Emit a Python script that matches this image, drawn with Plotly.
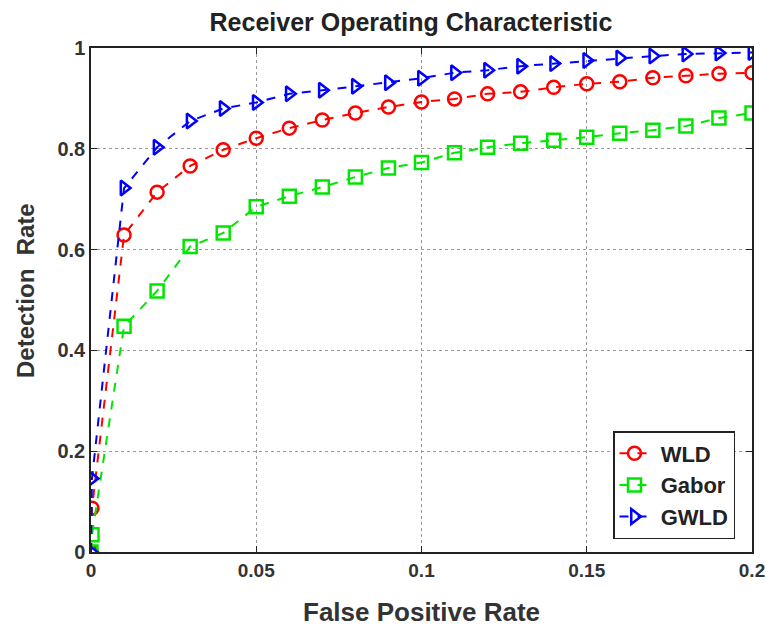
import plotly.graph_objects as go

fpr = [0.0, 0.0003, 0.01, 0.02, 0.03, 0.04, 0.05, 0.06, 0.07, 0.08, 0.09, 0.10,
       0.11, 0.12, 0.13, 0.14, 0.15, 0.16, 0.17, 0.18, 0.19, 0.20]

wld = [0.0, 0.087, 0.629, 0.714, 0.766, 0.798, 0.821, 0.841, 0.857, 0.871, 0.883, 0.893,
       0.899, 0.909, 0.913, 0.922, 0.929, 0.933, 0.941, 0.945, 0.949, 0.951]
gabor = [0.0, 0.034, 0.448, 0.518, 0.606, 0.633, 0.685, 0.706, 0.724, 0.744, 0.762, 0.773,
         0.792, 0.803, 0.811, 0.817, 0.823, 0.831, 0.837, 0.845, 0.861, 0.871]
gwld = [0.0, 0.146, 0.722, 0.803, 0.855, 0.880, 0.892, 0.909, 0.916, 0.924, 0.931, 0.940,
        0.951, 0.956, 0.964, 0.969, 0.975, 0.980, 0.984, 0.988, 0.990, 0.991]

x_ticks = [0, 0.05, 0.1, 0.15, 0.2]
x_tick_labels = ["0", "0.05", "0.1", "0.15", "0.2"]
y_ticks = [0, 0.2, 0.4, 0.6, 0.8, 1]
y_tick_labels = ["0", "0.2", "0.4", "0.6", "0.8", "1"]

series = [
    ("WLD", wld, "#ff0000", "circle-open"),
    ("Gabor", gabor, "#00e600", "square-open"),
    ("GWLD", gwld, "#0000ff", "triangle-right-open"),
]

fig = go.Figure()
for name, ys, col, sym in series:
    fig.add_trace(go.Scatter(
        x=fpr, y=ys, name="&nbsp;<b>" + name + "</b>", mode="lines+markers",
        line=dict(color=col, width=2, dash="dash"),
        marker=dict(symbol=sym, size=13, color=col, line=dict(width=2.5, color=col)),
    ))

W, H = 766, 628
L, T = 91, 48
PW, PH = 661, 504

font_main = "Liberation Sans, Arial, sans-serif"
axis_common = dict(
    showgrid=True, gridcolor="#999999", griddash="dot", gridwidth=1,
    showline=True, linecolor="#222", linewidth=1.5, mirror="ticks",
    ticks="inside", ticklen=6, tickcolor="#222", zeroline=False,
    automargin=False,
)
fig.update_layout(
    width=W, height=H,
    margin=dict(l=L, r=W - L - PW, t=T, b=H - T - PH),
    paper_bgcolor="white", plot_bgcolor="white",
    title=dict(text="<b>Receiver Operating Characteristic</b>", x=411 / W, xanchor="center",
               xref="container", yref="container",
               y=1 - 22 / H, yanchor="middle", font=dict(family=font_main, size=25, color="#222")),
    font=dict(family=font_main, color="#333"),
    xaxis=dict(range=[0, 0.2], tickvals=x_ticks, tickfont=dict(size=19, color="#333"),
               ticktext=["<b>" + t + "</b>" for t in x_tick_labels], **axis_common),
    yaxis=dict(range=[0, 1], tickvals=y_ticks, tickfont=dict(size=20, color="#333"),
               ticktext=["<b>" + t + "</b>" for t in y_tick_labels], **axis_common),
    legend=dict(x=(735 - 91) / PW, y=(552 - 539) / PH, xanchor="right", yanchor="bottom",
                bgcolor="white", bordercolor="#222", borderwidth=1.5,
                font=dict(size=22, color="#222", family=font_main),
                tracegroupgap=0),
    annotations=[
        dict(text="<b>False Positive Rate</b>", xref="paper", yref="paper",
             x=0.5, y=(552 - 612) / PH, xanchor="center", yanchor="middle",
             showarrow=False, font=dict(size=26, color="#333", family=font_main)),
        dict(text="<b>Detection  Rate</b>", xref="paper", yref="paper",
             x=(25 - 91) / PW, y=(552 - 291) / PH, xanchor="center", yanchor="middle",
             textangle=-90, showarrow=False, font=dict(size=24, color="#333", family=font_main)),
    ],
    showlegend=True,
)

fig.write_html("out.html", config={"displayModeBar": False},
               post_script="document.body.style.margin='0';document.body.style.overflow='hidden';")
